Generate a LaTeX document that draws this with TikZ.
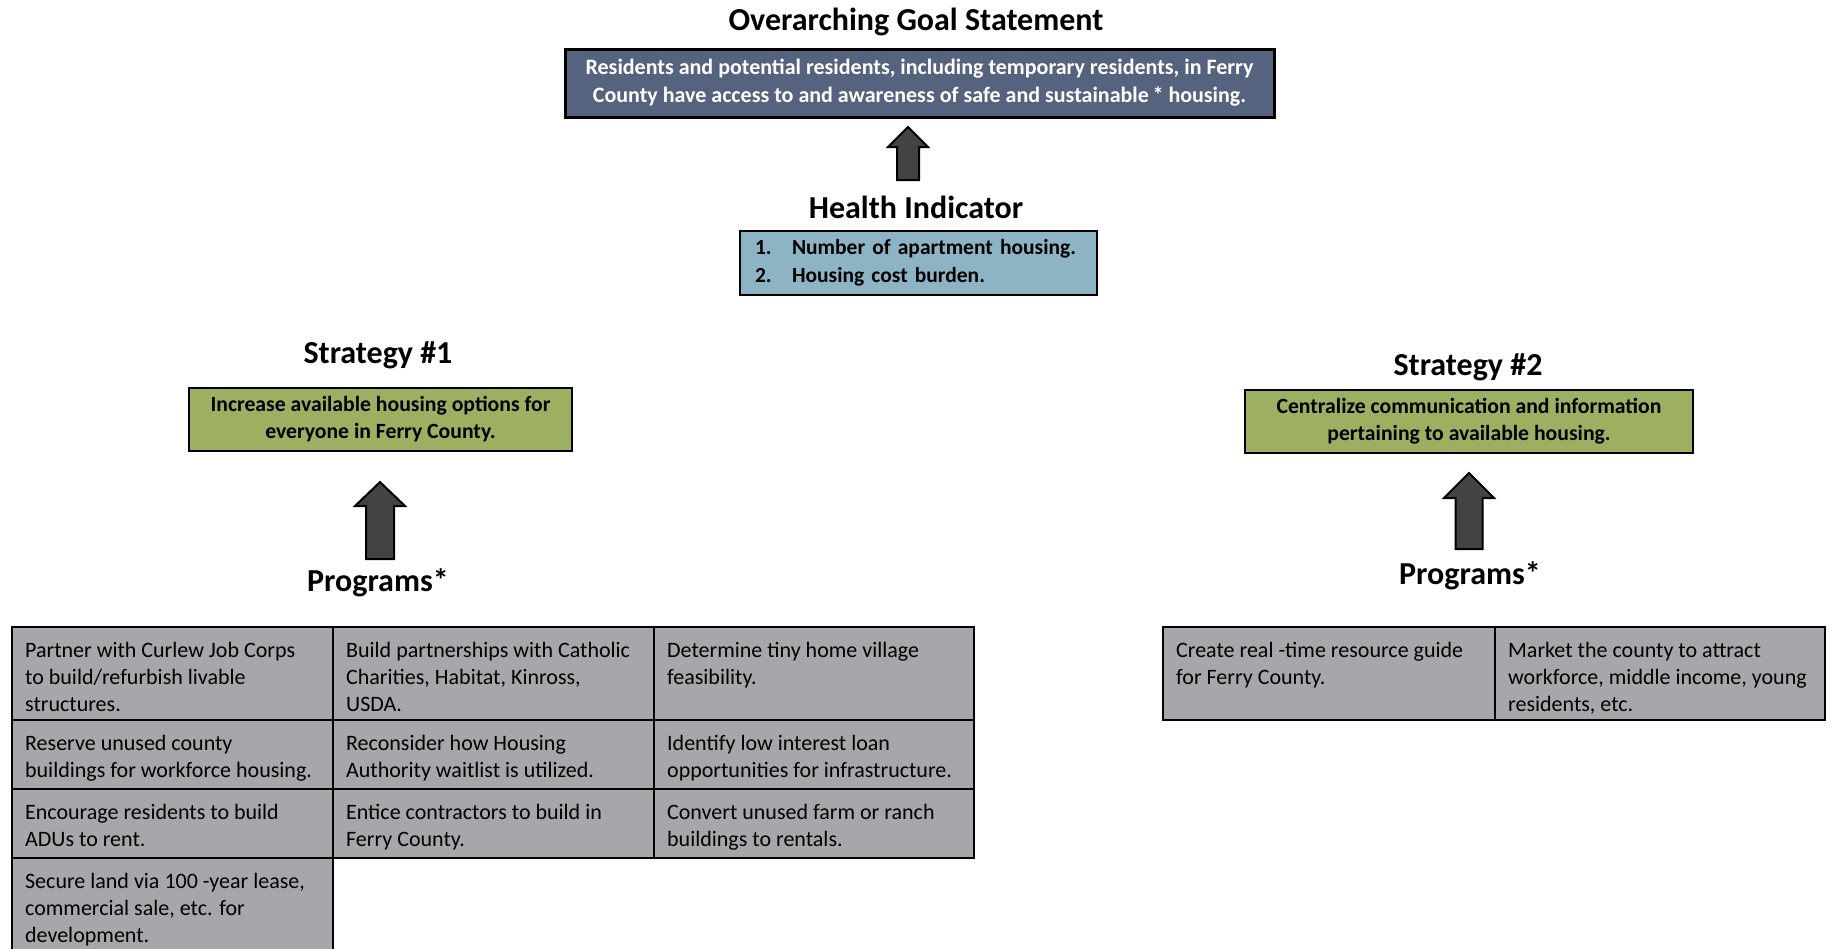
\documentclass[tikz,border=0pt]{standalone}
\usepackage{fontspec}
\setmainfont{Carlito}
\usetikzlibrary{calc}
\definecolor{goalblue}{RGB}{86,99,126}
\definecolor{healthblue}{RGB}{141,180,197}
\definecolor{stratgreen}{RGB}{157,176,98}
\definecolor{cellgray}{RGB}{166,166,171}
\definecolor{arrowgray}{RGB}{67,67,67}
\newcommand\cellpar[3]{\parbox[t][#2pt][t]{#1pt}{\raggedright\strut #3}}
\begin{document}
\begin{tikzpicture}[x=1pt,y=-1pt,
  heading/.style={font=\fontsize{32}{38}\selectfont\bfseries, inner sep=0pt},
  goalbox/.style={draw=black, line width=3pt, fill=goalblue, text=white,
    font=\fontsize{22}{28}\selectfont\bfseries, align=center, inner sep=0pt},
  healthbox/.style={draw=black, line width=2.5pt, fill=healthblue,
    font=\fontsize{21.5}{28}\selectfont\bfseries, align=left, inner sep=0pt},
  stratbox/.style={draw=black, line width=2.5pt, fill=stratgreen,
    font=\fontsize{21.7}{27}\selectfont\bfseries, align=center, inner sep=0pt},
  cell/.style={draw=black, line width=2.3pt, fill=cellgray, anchor=north west,
    inner xsep=13pt, inner ysep=11pt, font=\fontsize{22}{27}\selectfont},
  blockarr/.style={draw=black, line width=2pt, fill=arrowgray, line join=miter}
]
\useasboundingbox (0,0) rectangle (1837,948);

% headings
\node[heading] (goaltitle) at (916,22) {Overarching Goal Statement};
\node[heading] (healthtitle) at (916,207) {Health Indicator};
\node[heading] (strat1title) at (378,355) {Strategy \#1};
\node[heading] (strat2title) at (1468,367) {Strategy \#2};
\node[heading] (prog1title) at (378,583) {Programs*};
\node[heading] (prog2title) at (1470,576) {Programs*};

% boxes
\node[goalbox, minimum width=709pt, minimum height=68pt] (goal) at (919.5,83)
  {Residents and potential residents, including temporary residents, in Ferry\\
   County have access to and awareness of safe and sustainable\thinspace* housing.};
\node[healthbox, minimum height=64pt, inner xsep=15pt, text width=327pt] (health) at (918.5,263)
  {\begin{tabular}{@{}p{37pt}@{}l@{}}
   1. & Number of apartment housing.\\
   2. & Housing cost burden.
   \end{tabular}};
\node[stratbox, minimum width=383pt, minimum height=63pt] (strat1) at (380.5,419.5)
  {Increase available housing options for\\everyone in Ferry County.};
\node[stratbox, minimum width=448pt, minimum height=63pt] (strat2) at (1469,421.5)
  {Centralize communication and information\\pertaining to available housing.};

% block arrows
\coordinate (a1tip) at (908,127);
\coordinate (a2tip) at (380,482);
\coordinate (a3tip) at (1469,473);
\draw[blockarr] (a1tip) -- ++(20,20) -- ++(-9,0) -- ++(0,33) -- ++(-22,0) -- ++(0,-33) -- ++(-9,0) -- cycle;
\draw[blockarr] (a2tip) -- ++(25,24) -- ++(-11,0) -- ++(0,53) -- ++(-28,0) -- ++(0,-53) -- ++(-11,0) -- cycle;
\draw[blockarr] (a3tip) -- ++(25,25) -- ++(-11.5,0) -- ++(0,51) -- ++(-27,0) -- ++(0,-51) -- ++(-11.5,0) -- cycle;

% table 1
\node[cell] (c11) at (11,626) {\cellpar{295}{71}{Partner with Curlew Job Corps\\to build/refurbish livable\\structures.}};
\node[cell] (c12) at (332,626) {\cellpar{295}{71}{Build partnerships with Catholic\\Charities, Habitat, Kinross,\\USDA.}};
\node[cell] (c13) at (653,626) {\cellpar{294}{71}{Determine tiny home village\\feasibility.}};
\node[cell] (c21) at (11,719) {\cellpar{295}{47}{Reserve unused county\\buildings for workforce housing.}};
\node[cell] (c22) at (332,719) {\cellpar{295}{47}{Reconsider how Housing\\Authority waitlist is utilized.}};
\node[cell] (c23) at (653,719) {\cellpar{294}{47}{Identify low interest loan\\opportunities for infrastructure.}};
\node[cell] (c31) at (11,788) {\cellpar{295}{47}{Encourage residents to build\\ADUs to rent.}};
\node[cell] (c32) at (332,788) {\cellpar{295}{47}{Entice contractors to build in\\Ferry County.}};
\node[cell] (c33) at (653,788) {\cellpar{294}{47}{Convert unused farm or ranch\\buildings to rentals.}};
\node[cell] (c41) at (11,857) {\cellpar{295}{76}{Secure land via 100 -year lease,\\commercial sale, etc. for\\development.}};

% table 2
\node[cell] (d11) at (1162,626) {\cellpar{306}{71}{Create real -time resource guide\\for Ferry County.}};
\node[cell] (d12) at (1494,626) {\cellpar{304}{71}{Market the county to attract\\workforce, middle income, young\\residents, etc.}};
\end{tikzpicture}
\end{document}
